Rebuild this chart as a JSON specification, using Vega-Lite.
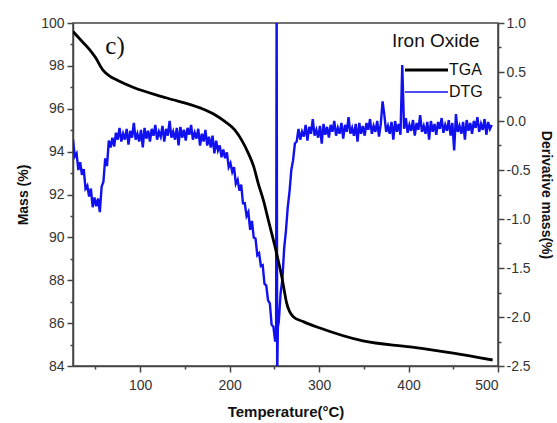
{
  "$schema": "https://vega.github.io/schema/vega-lite/v6.json",
  "width": 425,
  "height": 343,
  "autosize": "none",
  "padding": {"left": 73, "top": 23, "right": 59, "bottom": 57},
  "background": "white",
  "config": {
    "font": "Liberation Sans",
    "view": {"stroke": "#444", "strokeWidth": 1.5},
    "axis": {"grid": false, "domainColor": "#444", "domainWidth": 1.5, "tickColor": "#444", "tickWidth": 1.5, "labelColor": "#333", "labelFontSize": 14, "titleFontSize": 14, "titleFontWeight": "bold", "titleColor": "#111", "labelFont": "Liberation Sans", "titleFont": "Liberation Sans"}
  },
  "datasets": {
    "tga": [
      {"T": 25, "m": 99.6}, {"T": 35, "m": 99.15}, {"T": 44, "m": 98.74}, {"T": 50, "m": 98.4}, {"T": 58.5, "m": 97.8}, {"T": 66, "m": 97.52}, {"T": 74, "m": 97.34}, {"T": 92, "m": 97.0}, {"T": 130, "m": 96.5}, {"T": 167, "m": 96.04}, {"T": 184, "m": 95.71}, {"T": 195, "m": 95.4}, {"T": 206, "m": 95.0}, {"T": 214, "m": 94.5}, {"T": 221, "m": 93.92}, {"T": 227, "m": 93.3}, {"T": 232, "m": 92.52}, {"T": 238, "m": 91.7}, {"T": 243.3, "m": 90.81}, {"T": 247, "m": 90.2}, {"T": 250.8, "m": 89.57}, {"T": 254.5, "m": 88.9}, {"T": 258.3, "m": 88.17}, {"T": 261, "m": 87.55}, {"T": 263.8, "m": 86.93}, {"T": 267, "m": 86.55}, {"T": 271.2, "m": 86.3}, {"T": 282.4, "m": 86.07}, {"T": 301, "m": 85.77}, {"T": 349, "m": 85.17}, {"T": 402, "m": 84.89}, {"T": 450, "m": 84.6}, {"T": 494, "m": 84.28}
    ],
    "dtg": [
      {"T":25,"d":-0.19},{"T":27,"d":-0.36},{"T":29,"d":-0.33},{"T":31,"d":-0.50},{"T":33,"d":-0.42},{"T":35,"d":-0.55},{"T":37,"d":-0.49},{"T":39,"d":-0.69},{"T":41,"d":-0.66},{"T":43,"d":-0.77},{"T":45,"d":-0.69},{"T":47,"d":-0.88},{"T":49,"d":-0.78},{"T":51,"d":-0.87},{"T":53,"d":-0.79},{"T":55,"d":-0.93},{"T":57,"d":-0.67},{"T":59,"d":-0.62},{"T":61,"d":-0.38},{"T":63,"d":-0.46},{"T":65,"d":-0.20},{"T":67,"d":-0.27},{"T":69,"d":-0.17},{"T":71,"d":-0.26},{"T":73,"d":-0.12},{"T":75,"d":-0.19},{"T":77,"d":-0.07},{"T":79,"d":-0.21},{"T":81,"d":-0.13},{"T":83,"d":-0.19},{"T":85,"d":-0.08},{"T":87,"d":-0.24},{"T":89,"d":-0.10},{"T":91,"d":-0.17},{"T":93,"d":-0.02},{"T":95,"d":-0.19},{"T":97,"d":-0.13},{"T":99,"d":-0.21},{"T":101,"d":-0.09},{"T":103,"d":-0.27},{"T":105,"d":-0.07},{"T":107,"d":-0.18},{"T":109,"d":-0.10},{"T":111,"d":-0.21},{"T":113,"d":-0.08},{"T":115,"d":-0.15},{"T":117,"d":-0.04},{"T":119,"d":-0.19},{"T":121,"d":-0.11},{"T":123,"d":-0.16},{"T":125,"d":-0.05},{"T":127,"d":-0.21},{"T":129,"d":-0.08},{"T":131,"d":-0.15},{"T":133,"d":0.00},{"T":135,"d":-0.17},{"T":137,"d":-0.11},{"T":139,"d":-0.19},{"T":141,"d":-0.07},{"T":143,"d":-0.25},{"T":145,"d":-0.06},{"T":147,"d":-0.17},{"T":149,"d":-0.09},{"T":151,"d":-0.20},{"T":153,"d":-0.07},{"T":155,"d":-0.14},{"T":157,"d":-0.04},{"T":159,"d":-0.19},{"T":161,"d":-0.12},{"T":163,"d":-0.18},{"T":165,"d":-0.08},{"T":167,"d":-0.25},{"T":169,"d":-0.13},{"T":171,"d":-0.21},{"T":173,"d":-0.09},{"T":175,"d":-0.25},{"T":177,"d":-0.16},{"T":179,"d":-0.27},{"T":181,"d":-0.15},{"T":183,"d":-0.33},{"T":185,"d":-0.20},{"T":187,"d":-0.30},{"T":189,"d":-0.25},{"T":191,"d":-0.37},{"T":193,"d":-0.29},{"T":195,"d":-0.38},{"T":197,"d":-0.32},{"T":199,"d":-0.47},{"T":201,"d":-0.43},{"T":203,"d":-0.52},{"T":205,"d":-0.47},{"T":207,"d":-0.64},{"T":209,"d":-0.60},{"T":211,"d":-0.71},{"T":213,"d":-0.65},{"T":215,"d":-0.84},{"T":217,"d":-0.84},{"T":219,"d":-0.97},{"T":221,"d":-0.93},{"T":223,"d":-1.11},{"T":225,"d":-1.02},{"T":227,"d":-1.19},{"T":229,"d":-1.20},{"T":231,"d":-1.37},{"T":233,"d":-1.35},{"T":235,"d":-1.48},{"T":237,"d":-1.47},{"T":239,"d":-1.66},{"T":241,"d":-1.68},{"T":243,"d":-1.83},{"T":245,"d":-1.86},{"T":247,"d":-2.08},{"T":249,"d":-2.10},{"T":251,"d":-2.25},{"T":252,"d":-2.15},{"T":252.6,"d":1.3},{"T":253.2,"d":-2.6},{"T":254,"d":-2.1},{"T":255,"d":-2.05},{"T":257,"d":-1.76},{"T":259,"d":-1.62},{"T":261,"d":-1.30},{"T":263,"d":-1.12},{"T":265,"d":-0.88},{"T":267,"d":-0.72},{"T":269,"d":-0.50},{"T":271,"d":-0.40},{"T":273,"d":-0.23},{"T":275,"d":-0.21},{"T":277,"d":-0.08},{"T":279,"d":-0.19},{"T":281,"d":-0.11},{"T":283,"d":-0.16},{"T":285,"d":-0.04},{"T":287,"d":-0.20},{"T":289,"d":-0.06},{"T":291,"d":-0.13},{"T":293,"d":0.02},{"T":295,"d":-0.15},{"T":297,"d":-0.09},{"T":299,"d":-0.17},{"T":301,"d":-0.05},{"T":303,"d":-0.23},{"T":305,"d":-0.03},{"T":307,"d":-0.14},{"T":309,"d":-0.06},{"T":311,"d":-0.17},{"T":313,"d":-0.04},{"T":315,"d":-0.11},{"T":317,"d":0.00},{"T":319,"d":-0.15},{"T":321,"d":-0.07},{"T":323,"d":-0.13},{"T":325,"d":-0.02},{"T":327,"d":-0.18},{"T":329,"d":-0.04},{"T":331,"d":-0.11},{"T":333,"d":0.04},{"T":335,"d":-0.13},{"T":337,"d":-0.07},{"T":339,"d":-0.15},{"T":341,"d":-0.03},{"T":343,"d":-0.21},{"T":345,"d":-0.02},{"T":347,"d":-0.13},{"T":349,"d":-0.05},{"T":351,"d":-0.15},{"T":353,"d":-0.02},{"T":355,"d":-0.09},{"T":357,"d":0.02},{"T":359,"d":-0.13},{"T":361,"d":-0.05},{"T":363,"d":-0.11},{"T":365,"d":0.00},{"T":367,"d":-0.16},{"T":369,"d":-0.03},{"T":371,"d":0.20},{"T":373,"d":0.06},{"T":375,"d":-0.11},{"T":377,"d":-0.05},{"T":379,"d":-0.13},{"T":381,"d":-0.01},{"T":383,"d":-0.19},{"T":385,"d":0.00},{"T":387,"d":-0.11},{"T":389,"d":-0.03},{"T":391,"d":-0.14},{"T":393,"d":0.57},{"T":395,"d":-0.08},{"T":397,"d":0.03},{"T":399,"d":-0.12},{"T":401,"d":-0.04},{"T":403,"d":-0.10},{"T":405,"d":0.01},{"T":407,"d":-0.15},{"T":409,"d":-0.02},{"T":411,"d":-0.09},{"T":413,"d":0.06},{"T":415,"d":-0.11},{"T":417,"d":-0.05},{"T":419,"d":-0.13},{"T":421,"d":-0.01},{"T":423,"d":-0.19},{"T":425,"d":0.00},{"T":427,"d":-0.11},{"T":429,"d":-0.03},{"T":431,"d":-0.14},{"T":433,"d":-0.01},{"T":435,"d":-0.08},{"T":437,"d":0.03},{"T":439,"d":-0.12},{"T":441,"d":-0.04},{"T":443,"d":-0.10},{"T":445,"d":0.01},{"T":447,"d":-0.15},{"T":449,"d":-0.02},{"T":451,"d":-0.30},{"T":453,"d":0.07},{"T":455,"d":-0.11},{"T":457,"d":-0.05},{"T":459,"d":-0.13},{"T":461,"d":-0.01},{"T":463,"d":-0.19},{"T":465,"d":0.01},{"T":467,"d":-0.10},{"T":469,"d":-0.02},{"T":471,"d":-0.13},{"T":473,"d":0.00},{"T":475,"d":-0.07},{"T":477,"d":0.04},{"T":479,"d":-0.11},{"T":481,"d":-0.03},{"T":483,"d":-0.09},{"T":485,"d":0.02},{"T":487,"d":-0.14},{"T":489,"d":-0.01},{"T":491,"d":-0.08},{"T":493,"d":-0.04}
    ],
    "panel": [{"T": 72, "m": 98.93, "label": "c)"}]
  },
  "layer": [
    {
      "data": {"name": "dtg"},
      "mark": {"type": "line", "clip": true, "strokeWidth": 2.4, "strokeJoin": "miter"},
      "encoding": {
        "x": {"field": "T", "type": "quantitative", "scale": {"domain": [25, 500], "nice": false, "zero": false},
          "axis": {"orient": "bottom", "title": "Temperature(°C)", "titleFontSize": 15, "values": [50,100,150,200,250,300,350,400,450,500],
            "labelExpr": "datum.value % 100 === 0 ? datum.label : ''",
            "tickSize": {"condition": {"test": "datum.value % 100 === 0", "value": 6}, "value": 3},
            "labelPadding": 6, "titlePadding": 12}},
        "y": {"field": "d", "type": "quantitative", "scale": {"domain": [-2.5, 1.0], "nice": false, "zero": false},
          "axis": {"orient": "right", "title": "Derivative mass(%)",
            "values": [-2.5,-2.25,-2.0,-1.75,-1.5,-1.25,-1.0,-0.75,-0.5,-0.25,0,0.25,0.5,0.75,1.0],
            "labelExpr": "abs(datum.value*2 - round(datum.value*2)) < 0.001 ? replace(format(datum.value, '.1f'), '\u2212', '-') : ''",
            "tickSize": {"condition": {"test": "abs(datum.value*2 - round(datum.value*2)) < 0.001", "value": 6}, "value": 3},
            "labelPadding": 2, "titlePadding": 8}},
        "color": {"datum": "DTG", "type": "nominal", "scale": {"domain": ["TGA", "DTG"], "range": ["#000000", "#1010f0"]},
          "legend": {"orient": "none", "legendX": 319, "legendY": 9, "padding": 0, "title": "Iron Oxide", "titleFontSize": 19, "titleFontWeight": "normal", "titleColor": "#111", "titlePadding": 11, "titleAnchor": "start",
            "symbolType": "stroke", "symbolSize": 1849, "labelFontSize": 16, "labelColor": "#111", "rowPadding": 6,
            "encode": {
              "symbols": {"update": {"x": {"value": 34.5}, "size": {"value": 1849}, "strokeWidth": {"signal": "datum.value === 'TGA' ? 3 : 1.3"}, "stroke": {"signal": "datum.value === 'TGA' ? '#000000' : '#3030c8'"}}},
              "labels": {"update": {"x": {"value": 57}}}
            }}}
      }
    },
    {
      "data": {"name": "tga"},
      "mark": {"type": "line", "clip": true, "strokeWidth": 2.8, "interpolate": "monotone"},
      "encoding": {
        "x": {"field": "T", "type": "quantitative"},
        "y": {"field": "m", "type": "quantitative", "scale": {"domain": [84, 100], "nice": false, "zero": false},
          "axis": {"orient": "left", "title": "Mass (%)", "values": [84,85,86,87,88,89,90,91,92,93,94,95,96,97,98,99,100],
            "labelExpr": "datum.value % 2 === 0 ? datum.label : ''",
            "tickSize": {"condition": {"test": "datum.value % 2 === 0", "value": 6}, "value": 3},
            "labelPadding": 3, "titlePadding": 10}},
        "color": {"datum": "TGA", "type": "nominal"}
      }
    },
    {
      "data": {"name": "panel"},
      "mark": {"type": "text", "font": "Liberation Serif", "fontSize": 25, "color": "#111", "align": "center", "baseline": "middle"},
      "encoding": {
        "x": {"field": "T", "type": "quantitative"},
        "y": {"field": "m", "type": "quantitative", "scale": {"domain": [84, 100], "nice": false, "zero": false}, "axis": null},
        "text": {"field": "label"}
      }
    }
  ],
  "resolve": {"scale": {"y": "independent"}}
}
